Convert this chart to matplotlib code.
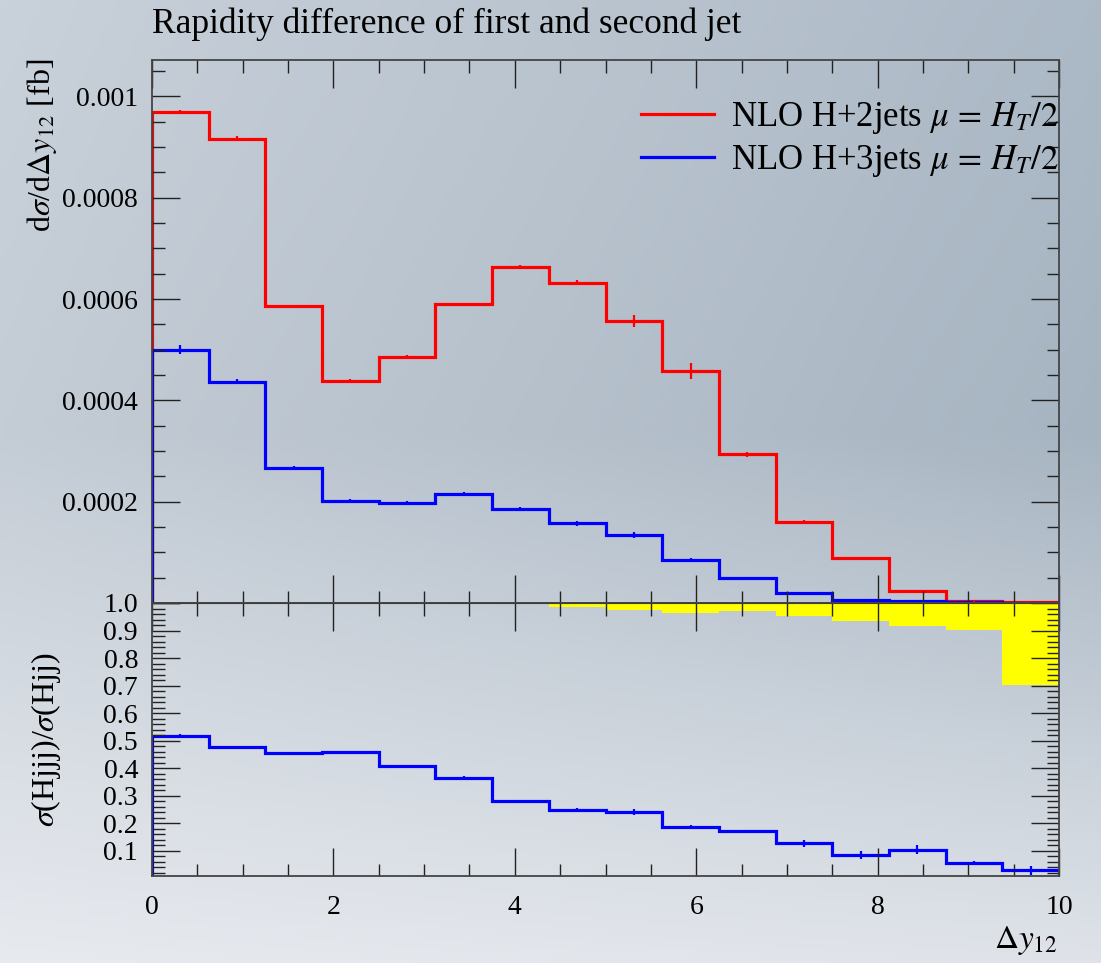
import matplotlib
matplotlib.use("Agg")
import matplotlib.pyplot as plt
import numpy as np
from matplotlib.ticker import MultipleLocator, FuncFormatter

plt.rcParams['font.family'] = ['Liberation Serif', 'DejaVu Serif']
plt.rcParams['mathtext.fontset'] = 'stix'

# 16 bins of width 0.625 in delta y12
edges = np.linspace(0, 10, 17)

hjj = [0.000969, 0.000917, 0.000586, 0.000439, 0.000486, 0.000590, 0.000664, 0.000632,
       0.000557, 0.000458, 0.000294, 0.000160, 0.0000886, 0.0000235, 0.000003, 0.000001]
hjj_err = [0.000004, 0.000004, 0.000003, 0.000003, 0.000003, 0.000003, 0.000004, 0.000005,
           0.000012, 0.000015, 0.000005, 0.000004, 0.000003, 0.000001, 0.0000005, 0.0000005]

hjjj = [0.000500, 0.000437, 0.000267, 0.000202, 0.000198, 0.000216, 0.000185, 0.000157,
        0.000134, 0.0000847, 0.0000491, 0.0000200, 0.0000069, 0.000003, 0.000001, 0.0000005]
hjjj_err = [0.000009, 0.000005, 0.000004, 0.000003, 0.000003, 0.000004, 0.000004, 0.000004,
            0.000006, 0.000004, 0.000002, 0.000001, 0.000001, 0.0000005, 0.0000003, 0.0000002]

ratio = [0.517, 0.476, 0.455, 0.460, 0.409, 0.365, 0.281, 0.250,
         0.242, 0.186, 0.172, 0.127, 0.084, 0.105, 0.058, 0.029]
ratio_err = [0.006, 0.004, 0.005, 0.004, 0.004, 0.006, 0.005, 0.006,
             0.012, 0.007, 0.005, 0.011, 0.014, 0.016, 0.005, 0.017]

# yellow band lower edge (upper edge is 1.0)
band_low = [0.997, 0.996, 0.997, 0.997, 0.997, 0.997, 0.996, 0.987,
            0.973, 0.962, 0.972, 0.953, 0.933, 0.917, 0.903, 0.703]

title = "Rapidity difference of first and second jet"
lab_red = r"NLO H+2jets $\mu\, =\, H_T/2$"
lab_blue = r"NLO H+3jets $\mu\, =\, H_T/2$"

W, H = 1101, 963
fig = plt.figure(figsize=(W / 100, H / 100), dpi=100)

# background gradient
bg_ax = fig.add_axes([0, 0, 1, 1], zorder=-10)
yy = np.linspace(0, 1, 200)[:, None]
xx = np.linspace(0, 1, 200)[None, :]
tl = np.array([201, 209, 218]); tr = np.array([172, 185, 198])
ml = np.array([196, 204, 213]); mr = np.array([166, 180, 193])
bl = np.array([231, 234, 239]); br = np.array([223, 227, 233])
top = tl[None, None, :] * (1 - xx[..., None]) + tr[None, None, :] * xx[..., None]
mid = ml[None, None, :] * (1 - xx[..., None]) + mr[None, None, :] * xx[..., None]
bot = bl[None, None, :] * (1 - xx[..., None]) + br[None, None, :] * xx[..., None]
t = yy[..., None]
img = np.where(t < 0.45, top + (mid - top) * (t / 0.45),
               mid + (bot - mid) * ((t - 0.45) / 0.55))
bg_ax.imshow(img / 255.0, aspect='auto', extent=[0, 1, 0, 1], origin='upper')
bg_ax.axis('off')

L, R = 152 / W, 1059 / W
ax1 = fig.add_axes([L, 1 - 603 / H, R - L, (603 - 60) / H])
ax2 = fig.add_axes([L, 1 - 876 / H, R - L, (876 - 603) / H])
for a in (ax1, ax2):
    a.patch.set_alpha(0)

centers = 0.5 * (edges[:-1] + edges[1:])
lw = 2.3

ax1.stairs(hjj, edges, color='#ff0000', lw=lw, label=lab_red)
ax1.errorbar(centers, hjj, yerr=hjj_err, fmt='none', ecolor='#ff0000', elinewidth=1.6)
ax1.stairs(hjjj, edges, color='#0000ff', lw=lw, label=lab_blue)
ax1.errorbar(centers, hjjj, yerr=hjjj_err, fmt='none', ecolor='#0000ff', elinewidth=1.6)
ax1.set_xlim(0, 10)
ax1.set_ylim(0, 0.001072)
ax1.yaxis.set_major_locator(MultipleLocator(0.0002))
ax1.yaxis.set_minor_locator(MultipleLocator(0.00005))
ax1.yaxis.set_major_formatter(FuncFormatter(lambda v, p: "" if abs(v) < 1e-9 else "%g" % v))
ax1.tick_params(axis='x', labelbottom=False)

ax2.stairs(band_low, edges, baseline=1.0, fill=True, color='#ffff00', lw=0)
ax2.axhline(1.0, color='black', lw=1.5)
ax2.stairs(ratio, edges, color='#0000ff', lw=lw)
ax2.errorbar(centers, ratio, yerr=ratio_err, fmt='none', ecolor='#0000ff', elinewidth=1.6)
ax2.set_xlim(0, 10)
ax2.set_ylim(0.009, 1.0)
ax2.yaxis.set_major_locator(MultipleLocator(0.1))
ax2.yaxis.set_minor_locator(MultipleLocator(0.02))
ax2.yaxis.set_major_formatter(FuncFormatter(lambda v, p: "%.1f" % v if v > 0.05 else ""))

for a in (ax1, ax2):
    a.xaxis.set_major_locator(MultipleLocator(2))
    a.xaxis.set_minor_locator(MultipleLocator(0.5))
    a.tick_params(which='both', direction='in', top=True, right=True, color='#222222',
                  labelsize=20, width=1.0)
    a.tick_params(which='major', length=20, pad=10)
    a.tick_params(which='minor', length=9)
    for s in a.spines.values():
        s.set_color('#444444')
        s.set_linewidth(1.3)
ax2.tick_params(axis='x', pad=14)

leg = ax1.legend(loc='upper right', bbox_to_anchor=(1.0, 1 - 40 / 543), frameon=False,
                 fontsize=25, handlelength=2.1, handletextpad=0.5, labelspacing=0.2,
                 borderaxespad=0, borderpad=0)

fig.text(L, 1 - 24 / H, title, fontsize=25.5, ha='left', va='center')
fig.text(42 / W, 1 - 58 / H, r"d$\sigma$/d$\Delta y_{12}$ [fb]", fontsize=23, rotation=90,
         ha='center', va='top')
fig.text(46 / W, 1 - 740 / H, r"$\sigma$(Hjjj)/$\sigma$(Hjj)", fontsize=23, rotation=90,
         ha='center', va='center')
fig.text(1058 / W, 1 - 940 / H, r"$\Delta y_{12}$", fontsize=24, ha='right', va='center')

fig.savefig("out.png", dpi=100)
